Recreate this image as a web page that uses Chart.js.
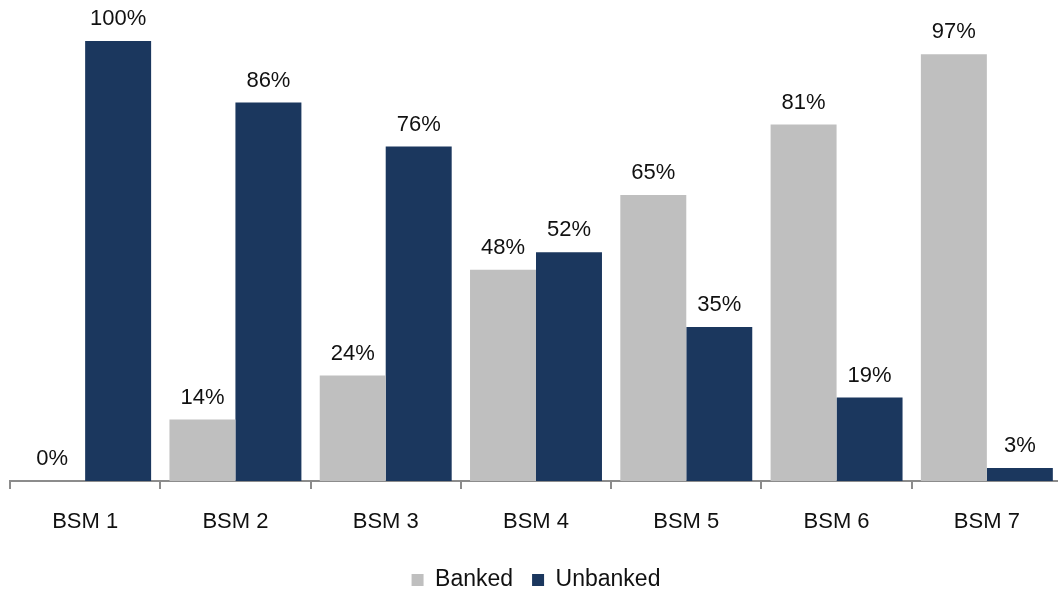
<!DOCTYPE html>
<html>
<head>
<meta charset="utf-8">
<script src="https://cdn.jsdelivr.net/npm/chart.js@4.4.0/dist/chart.umd.min.js"></script>
<style>
html,body{margin:0;padding:0;background:#fff;overflow:hidden;}
#wrap{width:1058px;height:593px;position:relative;overflow:hidden;}
</style>
</head>
<body>
<div id="wrap"><canvas id="c" width="1062" height="593"></canvas></div>
<script>
const categories = ["BSM 1","BSM 2","BSM 3","BSM 4","BSM 5","BSM 6","BSM 7"];
const banked = [0,14,24,48,65,81,97];
const unbanked = [100,86,76,52,35,19,3];
const seriesNames = ["Banked","Unbanked"];

const FONT = "'Liberation Sans', Arial, sans-serif";

const labelPlugin = {
  id: 'valueLabels',
  afterDatasetsDraw(chart) {
    const ctx = chart.ctx;
    ctx.save();
    ctx.font = "22px " + FONT;
    ctx.fillStyle = '#111';
    ctx.textAlign = 'center';
    ctx.textBaseline = 'middle';
    chart.data.datasets.forEach((ds, i) => {
      const meta = chart.getDatasetMeta(i);
      meta.data.forEach((bar, j) => {
        ctx.fillText(ds.data[j] + '%', bar.x, bar.y - 22);
      });
    });
    ctx.restore();
  }
};

new Chart(document.getElementById('c'), {
  type: 'bar',
  data: {
    labels: categories,
    datasets: [
      { label: seriesNames[0], data: banked, backgroundColor: '#BFBFBF', borderWidth: 0 },
      { label: seriesNames[1], data: unbanked, backgroundColor: '#1B375E', borderWidth: 0 }
    ]
  },
  options: {
    responsive: false,
    animation: false,
    devicePixelRatio: 1,
    layout: { padding: { left: 10, right: 0, top: 41, bottom: -8.5 } },
    datasets: { bar: { categoryPercentage: 0.878, barPercentage: 1.0 } },
    scales: {
      x: {
        offset: true,
        grid: { offset: true, drawOnChartArea: false, drawTicks: true, tickLength: 8, color: '#8C8C8C', lineWidth: 2 },
        border: { display: true, color: '#8C8C8C', width: 2 },
        ticks: { color: '#111', font: { family: FONT, size: 22 }, padding: 20 },
        afterFit(scale) { scale.height -= 6; }
      },
      y: {
        display: false,
        min: 0, max: 100
      }
    },
    plugins: {
      legend: {
        position: 'bottom',
        labels: { color: '#111', font: { family: FONT, size: 23, lineHeight: 1 }, boxWidth: 12, boxHeight: 12, padding: 19 }
      },
      tooltip: { enabled: false },
      valueLabels: {}
    }
  },
  plugins: [labelPlugin]
});
</script>
</body>
</html>
